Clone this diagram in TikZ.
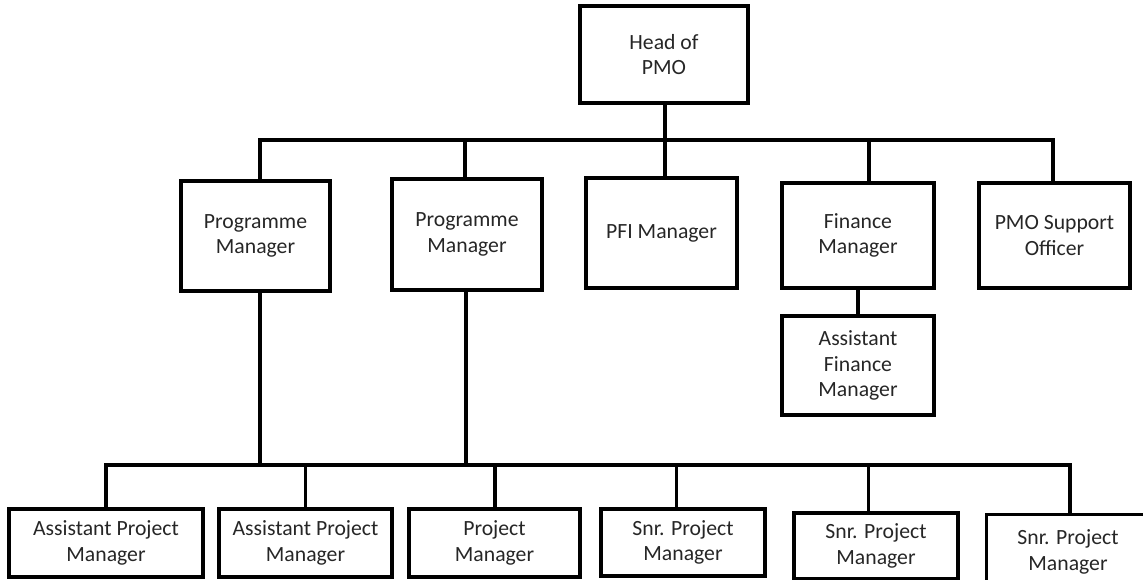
\documentclass[tikz,border=0pt]{standalone}
\usepackage{fontspec}
\setmainfont{Carlito}
\begin{document}
\begin{tikzpicture}[x=1pt,y=-1pt,
  box/.style={draw, line width=3.5pt, align=center, inner sep=0pt,
    font=\fontsize{21.7}{25.5}\selectfont, text=black!85},
  conn/.style={line width=3.5pt}]
\useasboundingbox (0,0) rectangle (1143,580);
\clip (0,0) rectangle (1143,580);
% top
\node[box, minimum width=168pt, minimum height=97pt] (head) at (664,54.5) {Head of\\PMO};
% middle row
\node[box, minimum width=149pt, minimum height=110pt] (pm1) at (255.5,236) {Programme\\Manager};
\node[box, minimum width=150pt, minimum height=111pt] (pm2) at (467,234.5) {Programme\\Manager};
\node[box, minimum width=151pt, minimum height=110pt] (pfi) at (661.5,233) {PFI Manager};
\node[box, minimum width=152pt, minimum height=105pt] (fin) at (858,235.5) {Finance\\Manager};
\node[box, minimum width=151pt, minimum height=105pt] (pmos) at (1054.5,235.5) {PMO Support\\Officer};
\node[box, minimum width=152pt, minimum height=99pt] (afm) at (858,365.5) {Assistant\\Finance\\Manager};
% bottom row
\node[box, minimum width=194pt, minimum height=68pt] (b1) at (106,543) {Assistant Project\\Manager};
\node[box, minimum width=173pt, minimum height=68pt] (b2) at (305.5,543) {Assistant Project\\Manager};
\node[box, minimum width=171pt, minimum height=68pt] (b3) at (494.5,543) {Project\\Manager};
\node[box, minimum width=164pt, minimum height=67pt] (b4) at (683,542.5) {Snr. Project\\Manager};
\node[box, minimum width=164pt, minimum height=66pt] (b5) at (876,546) {Snr. Project\\Manager};
\node[box, minimum width=163pt, minimum height=75pt] (b6) at (1068,552) {Snr. Project\\Manager};
% bus coordinates
\coordinate (j1) at (260,140);
\coordinate (j2) at (465,140);
\coordinate (jh) at (665,140);
\coordinate (j4) at (869,140);
\coordinate (j5) at (1053,140);
\coordinate (m1) at (260,465);
\coordinate (m2) at (466,465);
\coordinate (k1) at (106,465);
\coordinate (k2) at (305.5,465);
\coordinate (k3) at (495,465);
\coordinate (k4) at (676.5,465);
\coordinate (k5) at (868.5,465);
\coordinate (k6) at (1070,465);
% top connectors
\draw[conn] (pm1.north -| j1) -- (j1) -- (j5) -- (pmos.north -| j5);
\draw[conn] (head.south -| jh) -- (pfi.north -| jh);
\draw[conn] (j2) -- (pm2.north -| j2);
\draw[conn] (j4) -- (fin.north -| j4);
\draw[conn] (fin.south) -- (afm.north);
% bottom connectors
\draw[conn] (pm1.south -| m1) -- (m1);
\draw[conn] (pm2.south -| m2) -- (m2);
\draw[conn] (b1.north -| k1) -- (k1) -- (k6) -- (b6.north -| k6);
\draw[conn] (k2) -- (b2.north -| k2);
\draw[conn] (k3) -- (b3.north -| k3);
\draw[conn] (k4) -- (b4.north -| k4);
\draw[conn] (k5) -- (b5.north -| k5);
\end{tikzpicture}
\end{document}
